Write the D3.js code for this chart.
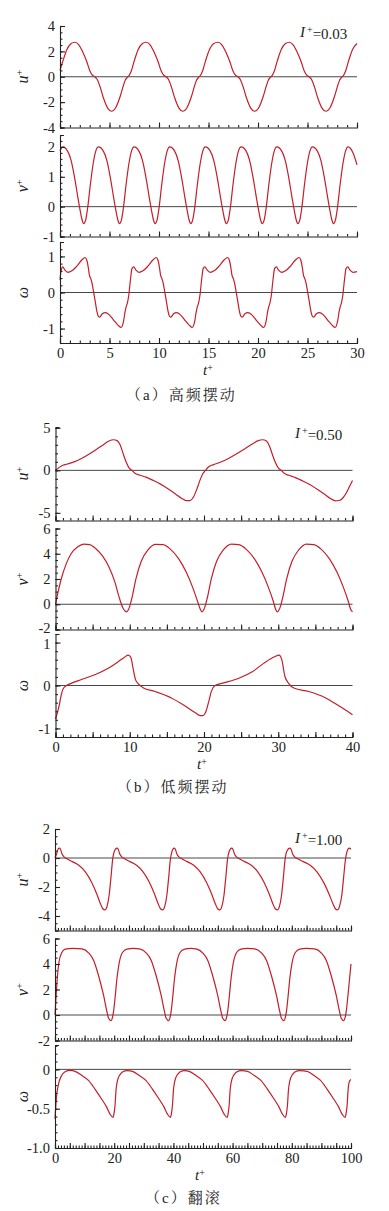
<!DOCTYPE html>
<html>
<head>
<meta charset="utf-8">
<script src="https://cdn.jsdelivr.net/npm/d3@7"></script>
<style>
  body { margin: 0; background: #fff; }
  svg { display: block; }
  text { font-family: "Liberation Serif", "Times New Roman", serif; fill: #222; }
</style>
</head>
<body>
<div id="chart"></div>
<script>
// ---- values: [t+, value] ----

// (a) high-frequency oscillation, I+ = 0.03
const uA = [[0,0.5],[0.3,1.25],[0.7,2.15],[1.1,2.6],[1.5,2.72],[1.9,2.52],[2.3,1.95],[2.7,1.2],[3.0,0.5],[3.25,0.15],[3.5,0.0],[3.75,-0.2],[4.05,-0.8],[4.4,-1.7],[4.8,-2.45],[5.2,-2.72],[5.65,-2.4],[6.1,-1.5],[6.4,-0.7],[6.6,-0.25],[6.8,-0.05],[7.0,0.12],[7.2,0.45],[7.5,1.25],[7.9,2.15],[8.3,2.6],
  [8.7,2.72],[9.1,2.52],[9.5,1.95],[9.9,1.2],[10.2,0.5],[10.45,0.15],[10.7,0.0],[10.95,-0.2],[11.25,-0.8],[11.6,-1.7],[12.0,-2.45],[12.4,-2.72],[12.85,-2.4],[13.3,-1.5],[13.6,-0.7],[13.8,-0.25],[14.0,-0.05],[14.2,0.12],[14.4,0.45],[14.7,1.25],[15.1,2.15],[15.5,2.6],
  [15.95,2.72],[16.35,2.52],[16.75,1.95],[17.15,1.2],[17.45,0.5],[17.7,0.15],[17.95,0.0],[18.2,-0.2],[18.5,-0.8],[18.85,-1.7],[19.25,-2.45],[19.65,-2.72],[20.1,-2.4],[20.55,-1.5],[20.85,-0.7],[21.05,-0.25],[21.25,-0.05],[21.45,0.12],[21.65,0.45],[21.95,1.25],[22.35,2.15],[22.75,2.6],
  [23.15,2.72],[23.55,2.52],[23.95,1.95],[24.35,1.2],[24.65,0.5],[24.9,0.15],[25.15,0.0],[25.4,-0.2],[25.7,-0.8],[26.05,-1.7],[26.45,-2.45],[26.85,-2.72],[27.3,-2.4],[27.75,-1.5],[28.05,-0.7],[28.25,-0.25],[28.45,-0.05],[28.65,0.12],[28.85,0.45],[29.15,1.25],[29.55,2.15],[30,2.62]];

const vA = [[0,1.87],[0.27,2.0],[0.77,1.86],[1.12,1.55],[1.47,0.98],[1.77,0.38],[2.02,-0.1],[2.22,-0.43],[2.39,-0.57],[2.59,-0.45],[2.79,-0.05],[3.07,0.75],[3.34,1.42],[3.62,1.87],
  [3.88,2.0],[4.38,1.86],[4.73,1.55],[5.08,0.98],[5.38,0.38],[5.63,-0.1],[5.83,-0.43],[6.0,-0.57],[6.2,-0.45],[6.4,-0.05],[6.68,0.75],[6.95,1.42],[7.23,1.87],
  [7.48,2.0],[7.98,1.86],[8.33,1.55],[8.68,0.98],[8.98,0.38],[9.23,-0.1],[9.43,-0.43],[9.6,-0.57],[9.8,-0.45],[10.0,-0.05],[10.28,0.75],[10.55,1.42],[10.83,1.87],
  [11.08,2.0],[11.58,1.86],[11.93,1.55],[12.28,0.98],[12.58,0.38],[12.83,-0.1],[13.03,-0.43],[13.2,-0.57],[13.4,-0.45],[13.6,-0.05],[13.88,0.75],[14.15,1.42],[14.43,1.87],
  [14.68,2.0],[15.18,1.86],[15.53,1.55],[15.88,0.98],[16.18,0.38],[16.43,-0.1],[16.63,-0.43],[16.8,-0.57],[17.0,-0.45],[17.2,-0.05],[17.48,0.75],[17.75,1.42],[18.03,1.87],
  [18.3,2.0],[18.8,1.86],[19.15,1.55],[19.5,0.98],[19.8,0.38],[20.05,-0.1],[20.25,-0.43],[20.42,-0.57],[20.62,-0.45],[20.82,-0.05],[21.1,0.75],[21.37,1.42],[21.65,1.87],
  [21.9,2.0],[22.4,1.86],[22.75,1.55],[23.1,0.98],[23.4,0.38],[23.65,-0.1],[23.85,-0.43],[24.02,-0.57],[24.22,-0.45],[24.42,-0.05],[24.7,0.75],[24.97,1.42],[25.25,1.87],
  [25.5,2.0],[26.0,1.86],[26.35,1.55],[26.7,0.98],[27.0,0.38],[27.25,-0.1],[27.45,-0.43],[27.62,-0.57],[27.82,-0.45],[28.02,-0.05],[28.3,0.75],[28.57,1.42],[28.85,1.87],
  [29.1,2.0],[29.6,1.8],[30,1.4]];

const wA = [[0,0.35],[0.12,0.62],[0.28,0.71],[0.5,0.62],[0.8,0.56],[1.2,0.6],[1.7,0.73],[2.2,0.9],
  [2.53,0.97],[2.7,0.9],[2.87,0.67],[2.97,0.48],[3.1,0.39],[3.24,0.25],[3.37,0.05],[3.54,-0.22],[3.71,-0.5],[3.88,-0.66],[4.01,-0.68],[4.28,-0.59],[4.58,-0.56],[4.98,-0.62],[5.43,-0.77],[5.88,-0.91],[6.17,-0.97],[6.41,-0.81],[6.57,-0.54],[6.68,-0.4],[6.81,-0.29],[6.95,-0.07],[7.11,0.34],[7.28,0.67],[7.45,0.71],[7.68,0.62],[7.98,0.56],[8.38,0.6],[8.88,0.73],[9.38,0.9],
  [9.72,0.97],[9.89,0.9],[10.06,0.67],[10.16,0.48],[10.29,0.39],[10.43,0.25],[10.56,0.05],[10.73,-0.22],[10.9,-0.5],[11.07,-0.66],[11.2,-0.68],[11.47,-0.59],[11.77,-0.56],[12.17,-0.62],[12.62,-0.77],[13.07,-0.91],[13.36,-0.97],[13.6,-0.81],[13.76,-0.54],[13.87,-0.4],[14.0,-0.29],[14.14,-0.07],[14.3,0.34],[14.47,0.67],[14.64,0.71],[14.87,0.62],[15.17,0.56],[15.57,0.6],[16.07,0.73],[16.57,0.9],
  [16.93,0.97],[17.1,0.9],[17.27,0.67],[17.37,0.48],[17.5,0.39],[17.64,0.25],[17.77,0.05],[17.94,-0.22],[18.11,-0.5],[18.28,-0.66],[18.41,-0.68],[18.68,-0.59],[18.98,-0.56],[19.38,-0.62],[19.83,-0.77],[20.28,-0.91],[20.57,-0.97],[20.81,-0.81],[20.97,-0.54],[21.08,-0.4],[21.21,-0.29],[21.35,-0.07],[21.51,0.34],[21.68,0.67],[21.85,0.71],[22.08,0.62],[22.38,0.56],[22.78,0.6],[23.28,0.73],[23.78,0.9],
  [24.15,0.97],[24.32,0.9],[24.49,0.67],[24.59,0.48],[24.72,0.39],[24.86,0.25],[24.99,0.05],[25.16,-0.22],[25.33,-0.5],[25.5,-0.66],[25.63,-0.68],[25.9,-0.59],[26.2,-0.56],[26.6,-0.62],[27.05,-0.77],[27.5,-0.91],[27.79,-0.97],[28.03,-0.81],[28.19,-0.54],[28.3,-0.4],[28.43,-0.29],[28.57,-0.07],[28.73,0.34],[28.9,0.67],[29.07,0.71],[29.3,0.62],[29.6,0.56],[30,0.58]];

// (b) low-frequency oscillation, I+ = 0.50
const uB = [[0,0],[0.5,0.35],[1.0,0.6],[1.6,0.75],[2.5,1.0],[3.5,1.4],[4.5,1.9],[5.5,2.45],[6.5,3.05],[7.2,3.45],[7.8,3.6],[8.3,3.5],[8.7,3.0],[9.1,2.0],[9.5,1.0],[9.9,0.3],[10.3,0.0],[10.7,-0.35],[11.3,-0.55],[12.2,-0.8],[13.2,-1.2],[14.2,-1.65],[15.2,-2.2],[16.2,-2.8],[17.0,-3.3],[17.6,-3.55],[18.1,-3.55],[18.6,-3.1],[19.0,-2.3],[19.4,-1.3],[19.8,-0.45],
  [20.2,0.0],[20.6,0.4],[21.2,0.65],[22.2,0.95],[23.3,1.4],[24.4,1.95],[25.5,2.55],[26.5,3.1],[27.3,3.5],[27.9,3.6],[28.4,3.45],[28.8,2.9],[29.2,1.9],[29.6,0.95],[30.0,0.3],[30.4,0.0],[30.8,-0.35],[31.4,-0.58],[32.3,-0.85],[33.3,-1.25],[34.3,-1.7],[35.3,-2.25],[36.3,-2.85],[37.1,-3.35],[37.7,-3.58],[38.2,-3.55],[38.7,-3.25],[39.2,-2.6],[39.6,-1.9],[40,-1.2]];

const vB = [[0,0.0],[0.3,0.84],[0.77,2.0],[1.44,3.2],[2.1,4.0],[3.0,4.55],[3.8,4.77],[4.6,4.72],[5.4,4.42],[6.3,3.85],[7.2,2.95],[8.0,1.75],[8.6,0.5],[9.05,-0.25],[9.35,-0.52],[9.55,-0.6],[9.85,-0.4],[10.25,0.4],[10.85,2.05],[11.55,3.4],[12.45,4.3],[13.5,4.75],[14.5,4.72],[15.5,4.35],[16.6,3.6],[17.6,2.55],[18.5,1.3],[19.15,0.2],[19.5,-0.4],[19.7,-0.6],
  [20.0,-0.4],[20.4,0.4],[21.0,2.05],[21.7,3.4],[22.6,4.3],[23.7,4.76],[24.7,4.72],[25.7,4.35],[26.8,3.6],[27.8,2.55],[28.7,1.3],[29.35,0.2],[29.65,-0.4],[29.85,-0.6],[30.15,-0.4],[30.55,0.4],[31.15,2.05],[31.85,3.4],[32.75,4.3],[33.8,4.76],[34.8,4.72],[35.8,4.35],[36.9,3.6],[37.9,2.55],[38.8,1.3],[39.45,0.2],[39.75,-0.4],[40,-0.6]];

const wB = [[0,-0.78],[0.25,-0.64],[0.55,-0.42],[0.8,-0.2],[1.05,-0.07],[1.5,0.0],[2.1,0.05],[3.5,0.14],[5.3,0.25],[7.1,0.4],[8.4,0.55],[9.3,0.66],[9.8,0.71],[10.15,0.65],[10.45,0.4],[10.75,0.15],[11.1,0.05],[11.8,-0.05],[13.4,-0.14],[15.6,-0.29],[17.4,-0.47],[18.8,-0.63],[19.5,-0.7],[19.9,-0.7],[20.2,-0.63],[20.6,-0.4],[21.0,-0.13],[21.5,0.0],
  [22.4,0.05],[24.7,0.17],[26.5,0.32],[28.3,0.55],[29.5,0.67],[30.1,0.71],[30.45,0.62],[30.9,0.21],[31.4,0.05],[32.1,-0.06],[34.1,-0.14],[36.4,-0.29],[38.2,-0.48],[40,-0.68]];

// (c) tumbling, I+ = 1.00
const uC = [[0,0.0],[0.5,0.25],[1.0,0.6],
  [1.45,0.68],[1.85,0.6],[2.35,0.3],[3.05,0.08],[3.75,-0.02],[5.85,-0.25],[8.05,-0.5],[10.25,-0.95],[12.45,-1.7],[14.15,-2.5],[15.35,-3.15],[16.15,-3.5],[16.85,-3.58],[17.55,-3.35],[18.3,-2.55],[18.9,-1.35],[19.45,-0.15],[19.95,0.4],
  [20.95,0.68],[21.35,0.6],[21.85,0.3],[22.55,0.08],[23.25,-0.02],[25.35,-0.25],[27.55,-0.5],[29.75,-0.95],[31.95,-1.7],[33.65,-2.5],[34.85,-3.15],[35.65,-3.5],[36.35,-3.58],[37.05,-3.35],[37.8,-2.55],[38.4,-1.35],[38.95,-0.15],[39.45,0.4],
  [40.25,0.68],[40.65,0.6],[41.15,0.3],[41.85,0.08],[42.55,-0.02],[44.65,-0.25],[46.85,-0.5],[49.05,-0.95],[51.25,-1.7],[52.95,-2.5],[54.15,-3.15],[54.95,-3.5],[55.65,-3.58],[56.35,-3.35],[57.1,-2.55],[57.7,-1.35],[58.25,-0.15],[58.75,0.4],
  [59.7,0.68],[60.1,0.6],[60.6,0.3],[61.3,0.08],[62.0,-0.02],[64.1,-0.25],[66.3,-0.5],[68.5,-0.95],[70.7,-1.7],[72.4,-2.5],[73.6,-3.15],[74.4,-3.5],[75.1,-3.58],[75.8,-3.35],[76.55,-2.55],[77.15,-1.35],[77.7,-0.15],[78.2,0.4],
  [79.35,0.68],[79.75,0.6],[80.25,0.3],[80.95,0.08],[81.7,-0.02],[83.9,-0.25],[86.2,-0.5],[88.5,-0.95],[90.8,-1.7],[92.6,-2.5],[93.9,-3.15],[94.7,-3.5],[95.4,-3.58],[96.1,-3.35],[96.9,-2.55],[97.5,-1.35],[98.1,-0.15],[98.6,0.4],[99.4,0.68],[100,0.6]];

const vC = [[0,0.0],[0.5,2.0],[1.3,4.1],[2.3,4.9],[3.4,5.17],[6.0,5.23],[9.1,5.18],[11.4,4.86],[13.1,4.26],[14.7,3.1],[16.4,1.55],[17.55,0.26],[18.1,-0.26],[19.0,-0.45],
  [19.4,-0.2],[19.8,0.3],[20.4,1.6],[20.9,2.8],[21.7,4.1],[22.8,4.9],[24.3,5.17],[26.5,5.23],[28.55,5.18],[30.85,4.86],[32.55,4.26],[34.15,3.1],[35.85,1.55],[37.0,0.26],[37.55,-0.26],[38.45,-0.45],
  [38.85,-0.2],[39.25,0.3],[39.85,1.6],[40.35,2.8],[41.15,4.1],[42.25,4.9],[43.75,5.17],[45.95,5.23],[47.65,5.18],[49.95,4.86],[51.65,4.26],[53.25,3.1],[54.95,1.55],[56.1,0.26],[56.65,-0.26],[57.55,-0.45],
  [57.95,-0.2],[58.35,0.3],[58.95,1.6],[59.45,2.8],[60.25,4.1],[61.35,4.9],[62.85,5.17],[65.05,5.23],[67.5,5.18],[69.8,4.86],[71.5,4.26],[73.1,3.1],[74.8,1.55],[75.95,0.26],[76.5,-0.26],[77.4,-0.45],
  [77.8,-0.2],[78.2,0.3],[78.8,1.6],[79.3,2.8],[80.1,4.1],[81.2,4.9],[82.7,5.17],[84.9,5.23],[87.7,5.18],[90.0,4.86],[91.7,4.26],[93.3,3.1],[95.0,1.55],[96.15,0.26],[96.7,-0.26],[97.6,-0.45],
  [98.0,-0.2],[98.4,0.3],[99.0,1.6],[99.5,2.8],[100,4.0]];

const wC = [[0,-0.63],[0.5,-0.35],[1.1,-0.2],[2.2,-0.08],[3.4,-0.03],[5.1,-0.013],[6.8,-0.025],[9.0,-0.076],[11.3,-0.14],[13.5,-0.25],[15.8,-0.38],[17.45,-0.48],[18.6,-0.57],[19.6,-0.61],
  [19.95,-0.56],[20.3,-0.45],[20.6,-0.27],[21.0,-0.16],[21.9,-0.07],[23.6,-0.02],[24.5,-0.015],[26.2,-0.025],[28.4,-0.076],[30.7,-0.14],[32.9,-0.25],[35.2,-0.38],[36.85,-0.48],[38.0,-0.57],[39.0,-0.61],
  [39.35,-0.56],[39.7,-0.45],[40.0,-0.27],[40.4,-0.16],[41.3,-0.07],[43.0,-0.02],[43.9,-0.015],[45.35,-0.025],[47.55,-0.076],[49.85,-0.14],[52.05,-0.25],[54.35,-0.38],[56.0,-0.48],[57.15,-0.57],[58.15,-0.61],
  [58.5,-0.56],[58.85,-0.45],[59.15,-0.27],[59.55,-0.16],[60.45,-0.07],[62.15,-0.02],[63.05,-0.015],[65.05,-0.025],[67.25,-0.076],[69.55,-0.14],[71.75,-0.25],[74.05,-0.38],[75.7,-0.48],[76.85,-0.57],[77.85,-0.61],
  [78.2,-0.56],[78.55,-0.45],[78.85,-0.27],[79.25,-0.16],[80.15,-0.07],[81.85,-0.02],[82.75,-0.015],[85.2,-0.025],[87.4,-0.076],[89.7,-0.14],[91.9,-0.25],[94.2,-0.38],[95.85,-0.48],[97.0,-0.57],[98.0,-0.61],
  [98.35,-0.56],[98.7,-0.45],[99.0,-0.27],[99.4,-0.16],[100,-0.13]];

// tick labels
const tTicksA = [0, 5, 10, 15, 20, 25, 30];
const tTicksB = [0, 10, 20, 30, 40];
const tTicksC = [0, 20, 40, 60, 80, 100];
const captions = ["（a）高频摆动", "（b）低频摆动", "（c）翻滚"];
const inertia = ["0.03", "0.50", "1.00"];

// ---- layout ----
const W = 389, H = 1211;
const RED = "#c41e2a", INK = "#222";
const SERIF = '"Liberation Serif", "Times New Roman", serif';

const fmtInt = d => String(d);            // plain hyphen minus like the original
const fmtHalf = d => d === 0 ? "0" : d.toFixed(1);

const groups = [
  { x0: 60, x1: 357, tMax: 30, tMajor: 5, tMinor: 1, tLabels: tTicksA, I: inertia[0], Ix: 300, Iy: 37,
    tTitle: [208, 375], cap: captions[0], capX: 126, capY: 400,
    panels: [
      { name: "u", data: uA, dom: [-4, 4],     y0: 127.5, y1: 26,  ticks: [-4, -2, 0, 2, 4], minor: 0.5, fmt: fmtInt },
      { name: "v", data: vA, dom: [-1, 2.4],   y0: 236.5, y1: 135, ticks: [-1, 0, 1, 2],     minor: 0.2, fmt: fmtInt },
      { name: "w", data: wA, dom: [-1.4, 1.4], y0: 343,   y1: 242, ticks: [-1, 0, 1],        minor: 0.2, fmt: fmtInt }
    ] },
  { x0: 55.5, x1: 352.5, tMax: 40, tMajor: 5, tMinor: 1, tLabels: tTicksB, I: inertia[1], Ix: 295, Iy: 438,
    tTitle: [202, 769], cap: captions[1], capX: 117, capY: 792,
    panels: [
      { name: "u", data: uB, dom: [-5.9, 5.1], y0: 520.5, y1: 427,   ticks: [-5, 0, 5],          minor: 1,   fmt: fmtInt },
      { name: "v", data: vB, dom: [-2, 6],     y0: 629.5, y1: 528.5, ticks: [-2, 0, 2, 4, 6],    minor: 0.5, fmt: fmtInt, nudge: { "-2": -1.5 } },
      { name: "w", data: wB, dom: [-1.2, 1.2], y0: 737,   y1: 634,   ticks: [-1, 0, 1],          minor: 0.2, fmt: fmtInt, nudge: { "1": 1.5 } }
    ] },
  { x0: 55, x1: 351, tMax: 100, tMajor: 5, tMinor: 1, tLabels: tTicksC, I: inertia[2], Ix: 295, Iy: 843,
    tTitle: [200, 1180], cap: captions[2], capX: 145, capY: 1203,
    panels: [
      { name: "u", data: uC, dom: [-5, 2],     y0: 930.5,  y1: 829,   ticks: [-4, -2, 0, 2],     minor: 0.5, fmt: fmtInt },
      { name: "v", data: vC, dom: [-2, 6],     y0: 1040.5, y1: 938.5, ticks: [-2, 0, 2, 4, 6],   minor: 0.5, fmt: fmtInt },
      { name: "w", data: wC, dom: [-1, 0.31],  y0: 1148,   y1: 1045,  ticks: [-1, -0.5, 0],      minor: 0.1, fmt: fmtHalf }
    ] }
];

const svg = d3.select("#chart").append("svg")
  .attr("width", W).attr("height", H)
  .attr("viewBox", `0 0 ${W} ${H}`);

function stepValues(lo, hi, step) {
  const a = Math.ceil(lo / step - 1e-6), b = Math.floor(hi / step + 1e-6);
  return d3.range(a, b + 1).map(k => +(k * step).toFixed(6));
}

function styleAxis(g) {
  g.attr("font-family", null).attr("font-size", null);
  g.selectAll("path, line").attr("stroke", INK).attr("stroke-width", 1.1);
  g.selectAll("text").attr("fill", INK)
    .style("font-family", SERIF)
    .style("font-size", "14.5px");
}

function axisTitle(sel, name, cx, cy) {
  const t = sel.append("text")
    .attr("transform", `translate(${cx},${cy}) rotate(-90)`)
    .attr("text-anchor", "middle")
    .attr("dy", "0.35em")
    .style("font-family", SERIF)
    .style("font-size", "16px");
  if (name === "w") {
    t.append("tspan").style("font-style", "italic").text("ω");
  } else {
    t.append("tspan").style("font-style", "italic").text(name);
    t.append("tspan").attr("dy", "-0.45em").style("font-size", "10px").text("+");
  }
}

groups.forEach(g => {
  const x = d3.scaleLinear().domain([0, g.tMax]).range([g.x0, g.x1]);
  const root = svg.append("g");

  g.panels.forEach((p, i) => {
    const y = d3.scaleLinear().domain(p.dom).range([p.y0, p.y1]);
    const last = i === g.panels.length - 1;

    // zero line
    root.append("line")
      .attr("x1", x(0)).attr("x2", x(g.tMax))
      .attr("y1", y(0)).attr("y2", y(0))
      .attr("stroke", "#333").attr("stroke-width", 0.9);

    // curve
    root.append("path")
      .datum(p.data)
      .attr("fill", "none")
      .attr("stroke", RED)
      .attr("stroke-width", 1.2)
      .attr("d", d3.line()
        .x(d => x(d[0]))
        .y(d => y(d[1]))
        .curve(d3.curveMonotoneX));

    // left axis: minor, then major with labels
    root.append("g")
      .attr("transform", `translate(${g.x0},0)`)
      .call(d3.axisLeft(y).tickValues(stepValues(p.dom[0], p.dom[1], p.minor)).tickSize(-2.5).tickFormat(""))
      .call(s => s.select(".domain").remove())
      .call(styleAxis);
    const left = root.append("g")
      .attr("transform", `translate(${g.x0},0)`)
      .call(d3.axisLeft(y).tickValues(p.ticks).tickSizeInner(-5).tickSizeOuter(-4).tickPadding(5).tickFormat(p.fmt))
      .call(styleAxis);
    // labels that crowd the neighbouring panel are moved a hair apart
    if (p.nudge) {
      left.selectAll(".tick text")
        .attr("y", d => p.nudge[String(d)] || 0);
    }

    // bottom axis
    root.append("g")
      .attr("transform", `translate(0,${p.y0})`)
      .call(d3.axisBottom(x).tickValues(stepValues(0, g.tMax, g.tMinor)).tickSize(-2.5).tickFormat(""))
      .call(s => s.select(".domain").remove())
      .call(styleAxis);
    const labels = new Set(g.tLabels);
    root.append("g")
      .attr("transform", `translate(0,${p.y0})`)
      .call(d3.axisBottom(x).tickValues(stepValues(0, g.tMax, g.tMajor))
        .tickSizeInner(-5).tickSizeOuter(-4).tickPadding(5)
        .tickFormat(d => (last && labels.has(d)) ? String(d) : ""))
      .call(styleAxis);

    axisTitle(root, p.name, 22, (p.y0 + p.y1) / 2);
  });

  // I+ annotation
  const ann = root.append("text")
    .attr("x", g.Ix).attr("y", g.Iy)
    .style("font-family", SERIF)
    .style("font-size", "15px");
  ann.append("tspan").style("font-style", "italic").text("I");
  ann.append("tspan").attr("dx", "2").attr("dy", "-0.45em").style("font-size", "10px").text("+");
  ann.append("tspan").attr("dy", "0.45em").text("=" + g.I);

  // t+ title
  const tt = root.append("text")
    .attr("x", g.tTitle[0]).attr("y", g.tTitle[1])
    .attr("text-anchor", "middle")
    .style("font-family", SERIF)
    .style("font-size", "15px");
  tt.append("tspan").style("font-style", "italic").text("t");
  tt.append("tspan").attr("dy", "-0.45em").style("font-size", "10px").text("+");

  // caption
  root.append("text")
    .attr("x", g.capX).attr("y", g.capY)
    .style("font-family", '"Liberation Serif", "Noto Serif CJK SC", "Noto Sans CJK SC", serif')
    .style("font-size", "15px")
    .style("letter-spacing", "2px")
    .text(g.cap);
});
</script>
</body>
</html>
